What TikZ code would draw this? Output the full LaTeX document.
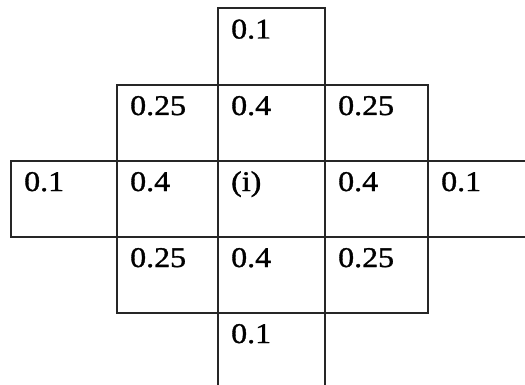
\documentclass[tikz,border=0pt]{standalone}
\usepackage{fontspec}
\setmainfont{Liberation Serif}[FakeStretch=1.12, FakeBold=1.2]

\begin{document}
\begin{tikzpicture}[x=1pt,y=-1pt,
  cell/.style={draw=black!85, line width=1.6pt, anchor=north west, inner sep=0pt},
  val/.style={anchor=base west, inner sep=0pt, font=\fontsize{28.5}{34}\selectfont}]
  % Page size (the table is cut off at the right and bottom edges)
  \useasboundingbox (0,0) rectangle (525,385);
  \clip (0,0) rectangle (525,385);

  % Draw cells: name/left/top/width/height
  \foreach \n/\x/\y/\w/\h in {top/217/7.5/107/76.5,
      nw/116/84/101/76, n/217/84/107/76, ne/324/84/103/76,
      ww/10/160/106/76, w/116/160/101/76, c/217/160/107/76, e/324/160/103/76, ee/427/160/130/76,
      sw/116/236/101/76, s/217/236/107/76, se/324/236/103/76,
      bot/217/312/107/100}
    \node[cell, minimum width=\w pt, minimum height=\h pt] (\n) at (\x,\y) {};

  % Weights in the top left corner of each cell
  \foreach \n/\t in {top/0.1, nw/0.25, n/0.4, ne/0.25,
      ww/0.1, w/0.4, c/(i), e/0.4, ee/0.1,
      sw/0.25, s/0.4, se/0.25, bot/0.1}
    \node[val] (\n-val) at ([shift={(14,31)}]\n.north west) {\t};
\end{tikzpicture}
\end{document}
